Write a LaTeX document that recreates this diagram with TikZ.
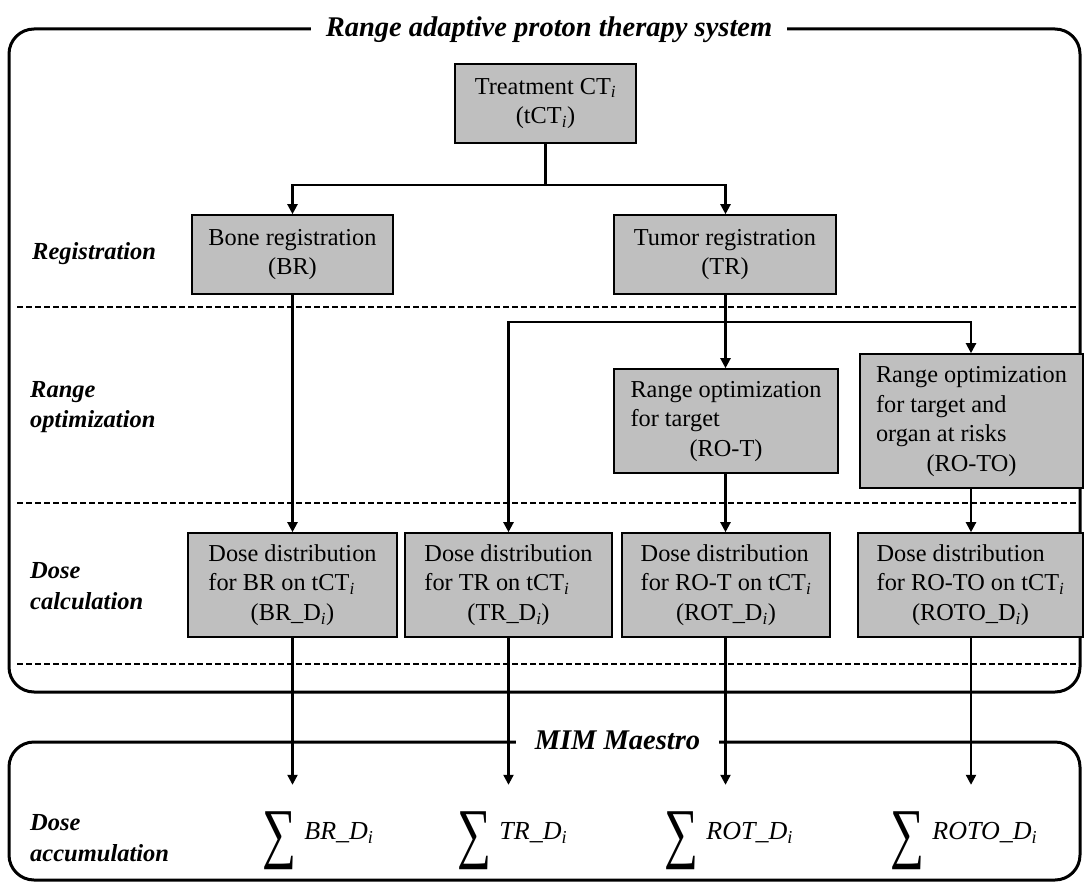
\RequirePackage{fix-cm}
\documentclass[tikz,border=0pt]{standalone}
\usepackage{graphicx}
\usepackage{fontspec}
\setmainfont{Liberation Serif}
\usetikzlibrary{arrows.meta}
\definecolor{boxgray}{RGB}{191,191,191}
\newcommand\bodyfont{\fontsize{24.3}{29.5}\selectfont}
\newcommand\labfont{\fontsize{24.5}{30.5}\selectfont\bfseries\itshape}
\newcommand\headfont{\fontsize{28.5}{32}\selectfont\bfseries\itshape}
\newcommand\sumfont{\fontsize{26}{30}\selectfont\itshape}
\newcommand\sub{\textsubscript{\textit{i}}}
\newcommand\bigsigma{\resizebox*{34pt}{58pt}{∑}}

\begin{document}
\begin{tikzpicture}[x=1pt,y=-1pt,
  box/.style={draw=black, line width=1.6pt, fill=boxgray, inner sep=0pt, font=\bodyfont, align=center},
  frame/.style={draw=black, line width=3pt, rounded corners=25pt},
  heading/.style={fill=white, inner xsep=15pt, inner ysep=5pt, font=\headfont, anchor=base},
  rowlabel/.style={anchor=west, align=left, font=\labfont, inner sep=0pt},
  sep/.style={line width=1.3pt, dash pattern=on 6pt off 3pt},
  conn/.style={line width=2.2pt},
  arr/.style={conn, -{Triangle[length=10pt,width=10pt]}},
  sigma/.style={inner sep=0pt},
  sumterm/.style={anchor=mid west, inner sep=0pt, font=\sumfont}
]
\useasboundingbox (0,0) rectangle (1086,885);

% frames
\draw[frame] (9,29) rectangle (1080,692);
\draw[frame] (9,742) rectangle (1080,880);
\node[heading] (title) at (549,37) {Range adaptive proton therapy system};

% row separators
\draw[sep] (17,307) -- (1078,307);
\draw[sep] (17,503) -- (1078,503);
\draw[sep] (17,664) -- (1078,664);

% row labels
\node[rowlabel] (lreg) at (32,254) {Registration};
\node[rowlabel] (lopt) at (30,407) {Range\\optimization};
\node[rowlabel] (lcalc) at (30,586) {Dose\\calculation};
\node[rowlabel] (lacc) at (30,838) {Dose\\accumulation};

% process boxes
\node[box, minimum width=181pt, minimum height=79pt] (tct) at (545.5,103.5) {Treatment CT\sub\\(tCT\sub)};
\node[box, minimum width=201pt, minimum height=79pt] (br) at (292.5,254.5) {Bone registration\\(BR)};
\node[box, minimum width=222pt, minimum height=79pt] (tr) at (725,254.5) {Tumor registration\\(TR)};
\node[box, minimum width=224pt, minimum height=104pt] (rot) at (726,421)
  {\begin{tabular}{@{}l@{}}Range optimization\\for target\\\multicolumn{1}{@{}c@{}}{(RO-T)}\end{tabular}};
\node[box, minimum width=223pt, minimum height=134pt] (roto) at (971.5,421)
  {\begin{tabular}{@{}l@{}}Range optimization\\for target and\\organ at risks\\\multicolumn{1}{@{}c@{}}{(RO-TO)}\end{tabular}};
\node[box, minimum width=209pt, minimum height=104pt] (dbr) at (292.5,585)
  {\begin{tabular}{@{}l@{}}Dose distribution\\for BR on tCT\sub\\\multicolumn{1}{@{}c@{}}{(BR\_D\sub)}\end{tabular}};
\node[box, minimum width=207pt, minimum height=104pt] (dtr) at (508.5,585)
  {\begin{tabular}{@{}l@{}}Dose distribution\\for TR on tCT\sub\\\multicolumn{1}{@{}c@{}}{(TR\_D\sub)}\end{tabular}};
\node[box, minimum width=208pt, minimum height=104pt] (drot) at (726,585)
  {\begin{tabular}{@{}l@{}}Dose distribution\\for RO-T on tCT\sub\\\multicolumn{1}{@{}c@{}}{(ROT\_D\sub)}\end{tabular}};
\node[box, minimum width=225pt, minimum height=104pt] (droto) at (970.5,585)
  {\begin{tabular}{@{}l@{}}Dose distribution\\for RO-TO on tCT\sub\\\multicolumn{1}{@{}c@{}}{(ROTO\_D\sub)}\end{tabular}};

% accumulation frame heading and sums
\node[heading, inner xsep=19pt] (mim) at (617.5,749) {MIM Maestro};
\node[sigma] (s1) at (279,841) {\bigsigma};
\node[sigma] (s2) at (474,841) {\bigsigma};
\node[sigma] (s3) at (681,841) {\bigsigma};
\node[sigma] (s4) at (907,841) {\bigsigma};
\node[sumterm] (t1) at ([xshift=8pt,yshift=4pt]s1.east) {BR\_D\textsubscript{i}};
\node[sumterm] (t2) at ([xshift=8pt,yshift=4pt]s2.east) {TR\_D\textsubscript{i}};
\node[sumterm] (t3) at ([xshift=8pt,yshift=4pt]s3.east) {ROT\_D\textsubscript{i}};
\node[sumterm] (t4) at ([xshift=8pt,yshift=4pt]s4.east) {ROTO\_D\textsubscript{i}};

% column positions of the connectors
\coordinate (c1) at (292.5,0);
\coordinate (c2) at (508.5,0);
\coordinate (c3) at (725.5,0);
\coordinate (c4) at (971,0);
\coordinate (j0) at (545.5,185);
\coordinate (j1) at (725.5,322);

% connectors
\draw[conn] (tct.south) -- (j0);
\draw[arr] (j0) -| (br.north -| c1);
\draw[arr] (j0) -| (tr.north -| c3);
\draw[arr] (br.south -| c1) -- (dbr.north -| c1);
\draw[conn] (tr.south -| c3) -- (j1);
\draw[arr] (j1) -- (rot.north -| c3);
\draw[arr] (j1) -| (dtr.north -| c2);
\draw[arr] (j1) -| (roto.north -| c4);
\draw[arr] (rot.south -| c3) -- (drot.north -| c3);
\draw[arr] (roto.south -| c4) -- (droto.north -| c4);
\draw[arr, shorten >=27pt] (dbr.south -| c1) -- (s1.north -| c1);
\draw[arr, shorten >=27pt] (dtr.south -| c2) -- (s2.north -| c2);
\draw[arr, shorten >=27pt] (drot.south -| c3) -- (s3.north -| c3);
\draw[arr, shorten >=27pt] (droto.south -| c4) -- (s4.north -| c4);
\end{tikzpicture}
\end{document}
